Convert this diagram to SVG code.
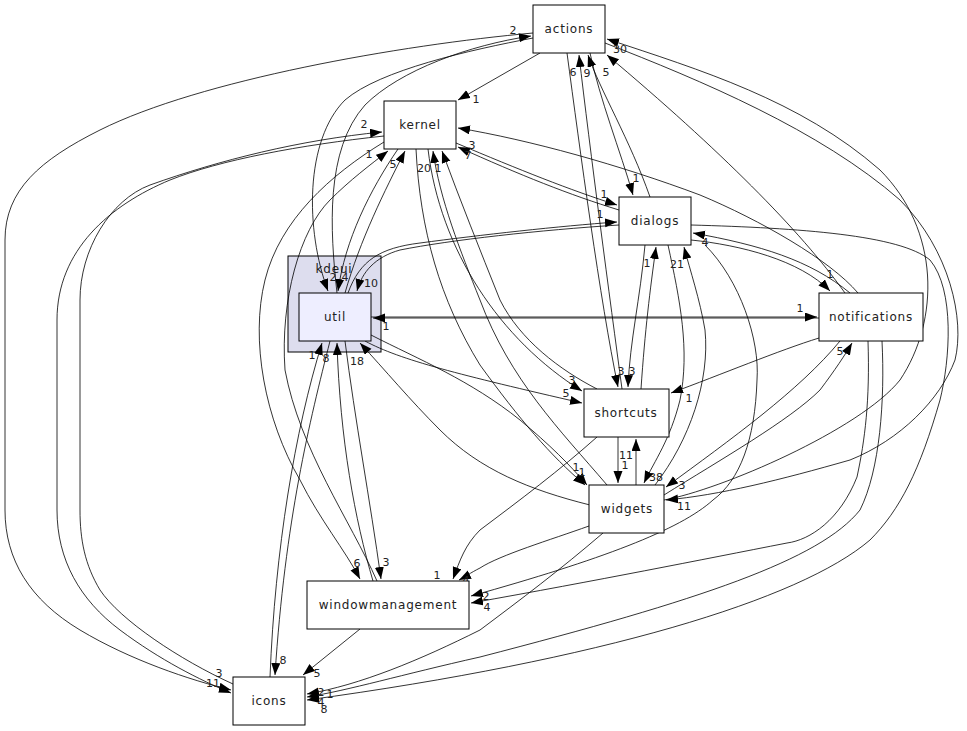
<svg xmlns="http://www.w3.org/2000/svg" width="967" height="731" viewBox="0 0 967 731">
<defs>
<marker id="ah" markerUnits="userSpaceOnUse" markerWidth="13" markerHeight="10" refX="12" refY="4.5" orient="auto"><path d="M0,0 L12,4.5 L0,9 z" fill="#000"/></marker>
<style>
.n rect{fill:#fff;stroke:#000;stroke-width:1}
.n text{font-family:"DejaVu Sans",sans-serif;font-size:12px;letter-spacing:0.8px;text-anchor:middle;fill:#222}
#edges path{fill:none;stroke:#000;stroke-width:0.8;marker-end:url(#ah)}
#labels text{font-family:"DejaVu Sans",sans-serif;font-size:11px;text-anchor:middle;fill:#222}
</style>
</defs>
<rect width="967" height="731" fill="#fff"/>
<g id="cluster-kdeui"><rect x="288" y="256" width="93" height="96" fill="#ddddee" stroke="#000"/><text x="334" y="273" font-family="DejaVu Sans,sans-serif" font-size="12" text-anchor="middle" letter-spacing="0.8" fill="#222">kdeui</text></g>
<g id="edges">
<path d="M337,293 C330,230 325,150 365,105 C400,70 470,45 531,36"/>
<path d="M533,38 C470,50 380,70 345,100 C305,140 305,230 328,291"/>
<path d="M533,33 C400,45 200,80 100,130 C40,160 5,190 5,240 L5,510 C5,560 30,600 80,630 C130,660 190,680 231,690"/>
<path d="M233,684 C180,660 120,620 100,590 C85,565 80,540 80,510 L80,300 C80,250 110,200 150,185 C220,160 300,140 382,132"/>
<path d="M384,136 C300,145 220,160 170,180 C110,205 57,250 57,320 L57,510 C57,560 80,600 120,630 C160,660 200,680 231,693"/>
<path d="M540,53 L458,100"/>
<path d="M345,293 C360,240 385,190 405,151"/>
<path d="M398,149 C370,190 345,240 338,291"/>
<path d="M384,142 C330,175 280,220 265,280 C250,340 265,420 300,480 C320,520 345,550 360,579"/>
<path d="M377,581 C350,520 300,450 285,370 C280,300 300,230 330,200 C350,180 370,165 388,151"/>
<path d="M345,341 C355,420 370,500 381,579"/>
<path d="M373,581 C355,520 340,440 337,343"/>
<path d="M330,341 C310,420 285,520 275,675"/>
<path d="M270,677 C275,550 295,430 322,343"/>
<path d="M371,317 L817,317"/>
<path d="M819,318 L373,318"/>
<path d="M348,293 C360,260 380,248 420,243 C480,235 560,226 617,222"/>
<path d="M619,225 C540,230 450,240 400,250 C375,257 362,272 357,291"/>
<path d="M365,341 C400,360 460,375 582,403"/>
<path d="M428,149 C440,250 500,340 582,391"/>
<path d="M590,505 C530,490 480,470 440,430 C410,400 385,370 360,343"/>
<path d="M371,335 C420,360 470,380 520,420 C550,445 570,465 587,485"/>
<path d="M416,149 C420,230 440,300 480,365 C520,420 550,455 585,485"/>
<path d="M607,485 C560,430 510,380 480,300 C460,250 440,200 433,151"/>
<path d="M597,389 C560,370 520,340 500,300 C480,250 460,200 442,151"/>
<path d="M456,143 C520,170 570,190 617,205"/>
<path d="M619,210 C570,195 520,175 458,147"/>
<path d="M858,293 C830,260 760,220 700,195 C620,165 530,140 458,128"/>
<path d="M567,53 C580,150 600,300 618,387"/>
<path d="M622,389 C610,300 590,150 579,55"/>
<path d="M650,197 C630,140 600,90 588,55"/>
<path d="M590,53 C600,100 620,150 633,195"/>
<path d="M845,293 C800,230 720,150 607,55"/>
<path d="M664,500 C720,490 860,430 900,380 C940,320 940,230 880,170 C800,100 700,70 607,39"/>
<path d="M605,43 C700,80 820,130 900,200 C950,250 965,320 955,360 C940,400 900,440 850,460 C780,480 720,495 666,500"/>
<path d="M691,240 C740,245 800,260 830,291"/>
<path d="M850,293 C810,260 760,245 693,233"/>
<path d="M691,225 C800,228 900,235 930,260 C955,290 950,360 940,400 C920,470 900,510 870,540 C800,600 600,660 307,700"/>
<path d="M603,533 C560,570 520,600 480,630 C420,660 360,685 307,694"/>
<path d="M882,341 C885,400 880,470 860,510 C820,560 700,600 480,657 C400,675 350,690 307,697"/>
<path d="M705,245 C740,280 760,340 757,380 C755,440 740,480 713,500 C680,530 600,560 471,596"/>
<path d="M868,341 C870,400 865,440 857,477 C840,520 810,540 787,543 C700,560 600,580 471,603"/>
<path d="M597,437 C560,470 520,500 480,530 C465,545 460,560 453,579"/>
<path d="M589,526 C550,540 500,555 480,568 C470,573 465,577 459,580"/>
<path d="M360,629 L303,675"/>
<path d="M618,437 L618,483"/>
<path d="M636,485 L636,439"/>
<path d="M641,389 C645,330 650,290 656,247"/>
<path d="M645,245 C640,300 630,340 628,387"/>
<path d="M668,245 C680,300 690,350 680,400 C670,440 655,460 644,483"/>
<path d="M655,485 C690,440 710,380 705,330 C700,300 690,270 684,247"/>
<path d="M819,338 C780,350 720,375 671,393"/>
<path d="M840,341 C800,390 730,440 666,487"/>
<path d="M664,495 C720,460 790,420 820,390 C835,370 845,355 852,343"/>
</g>
<g id="labels">
<text x="513" y="34">2</text><text x="333" y="281">2</text><text x="345" y="281">4</text>
<text x="213" y="687">11</text><text x="219" y="677">3</text><text x="364" y="128">2</text>
<text x="476" y="103">1</text><text x="393" y="168">5</text><text x="357" y="567">6</text>
<text x="369" y="158">1</text><text x="386" y="566">3</text><text x="326" y="362">8</text>
<text x="283" y="664">8</text><text x="312" y="359">1</text><text x="800" y="312">1</text>
<text x="386" y="330">1</text><text x="600" y="218">1</text><text x="371" y="287">10</text>
<text x="566" y="397">5</text><text x="572" y="384">3</text><text x="357" y="365">18</text>
<text x="576" y="471">1</text><text x="582" y="476">1</text><text x="424" y="172">20</text>
<text x="438" y="172">1</text><text x="604" y="198">1</text><text x="468" y="159">7</text>
<text x="472" y="149">3</text><text x="621" y="375">3</text><text x="573" y="76">6</text>
<text x="587" y="77">9</text><text x="636" y="182">1</text><text x="606" y="76">5</text>
<text x="620" y="53">30</text><text x="684" y="510">11</text><text x="830" y="278">1</text>
<text x="705" y="246">4</text><text x="324" y="713">8</text><text x="321" y="696">2</text>
<text x="330" y="698">1</text><text x="321" y="706">4</text><text x="317" y="677">5</text>
<text x="437" y="579">1</text><text x="466" y="584">4</text><text x="486" y="600">2</text>
<text x="487" y="611">4</text><text x="625" y="469">1</text><text x="626" y="459">11</text>
<text x="647" y="267">1</text><text x="632" y="375">3</text><text x="656" y="481">38</text>
<text x="677" y="268">21</text><text x="689" y="402">1</text><text x="682" y="489">3</text>
<text x="840" y="355">5</text>
</g>
<g id="node-actions" class="n"><rect x="533" y="5" width="72" height="48"/><text x="569" y="33">actions</text></g>
<g id="node-kernel" class="n"><rect x="384" y="101" width="72" height="48"/><text x="420" y="129">kernel</text></g>
<g id="node-dialogs" class="n"><rect x="619" y="197" width="72" height="48"/><text x="655" y="225">dialogs</text></g>
<g id="node-notifications" class="n"><rect x="819" y="293" width="104" height="48"/><text x="871" y="321">notifications</text></g>
<g id="node-util" class="n"><rect x="299" y="293" width="72" height="48" style="fill:#eeeeff"/><text x="335" y="321">util</text></g>
<g id="node-shortcuts" class="n"><rect x="584" y="389" width="85" height="48"/><text x="626" y="417">shortcuts</text></g>
<g id="node-widgets" class="n"><rect x="589" y="485" width="75" height="48"/><text x="627" y="513">widgets</text></g>
<g id="node-windowmanagement" class="n"><rect x="307" y="581" width="162" height="48"/><text x="388" y="609">windowmanagement</text></g>
<g id="node-icons" class="n"><rect x="233" y="677" width="72" height="48"/><text x="269" y="705">icons</text></g>
</svg>
